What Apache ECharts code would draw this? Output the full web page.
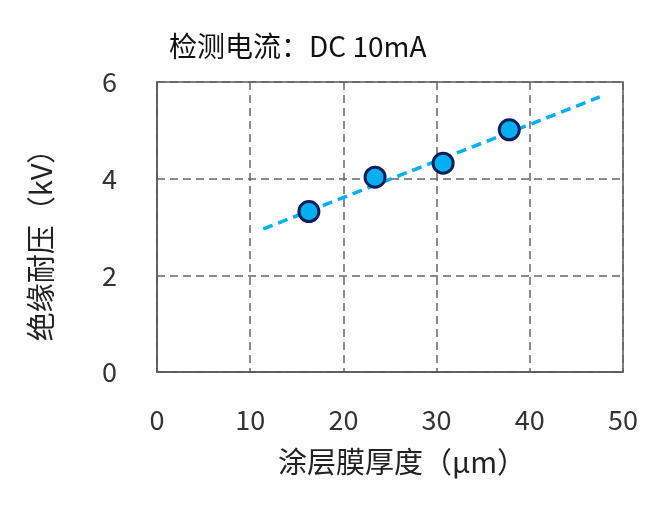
<!DOCTYPE html>
<html><head><meta charset="utf-8">
<script src="https://cdn.jsdelivr.net/npm/echarts@6/dist/echarts.min.js"></script>
<style>html,body{margin:0;padding:0;background:#fff}#c{width:666px;height:508px}</style>
</head><body><div id="c"></div>
<script>
const titleText = '检测电流：DC 10mA';
const xName = '涂层膜厚度（μm）';
const yName = '绝缘耐压（kV）';
const thickness = [16.3, 23.4, 30.7, 37.8];
const voltage = [3.32, 4.03, 4.32, 5.01];
const trendX = [11.4, 47.5];
const trendY = [2.96, 5.69];
const xTicks = [0, 10, 20, 30, 40, 50];
const yTicks = [0, 2, 4, 6];

const chart = echarts.init(document.getElementById('c'));
const font = '"Noto Sans CJK SC", "Noto Sans", sans-serif';
chart.setOption({
  animation: false,
  title: { text: titleText, left: 164, top: 27, textStyle: { fontFamily: font, fontSize: 28, fontWeight: 'normal', color: '#111' } },
  grid: { left: 157, top: 82, width: 466, height: 290, show: true, borderColor: '#595959', borderWidth: 1.5 },
  xAxis: {
    type: 'value', min: 0, max: 50, interval: 10,
    name: xName, nameLocation: 'middle', nameGap: 75,
    nameTextStyle: { fontFamily: font, fontSize: 29, color: '#222', padding: [0, 0, 0, 24] },
    axisLine: { show: true, lineStyle: { color: '#595959', width: 1.5 } },
    axisTick: { show: false },
    axisLabel: { fontFamily: font, fontSize: 27, color: '#333', margin: 34 },
    splitLine: { show: true, lineStyle: { type: [8, 5], color: '#666', width: 1.5 } }
  },
  yAxis: {
    type: 'value', min: 0, max: 6, interval: 2,
    name: yName, nameLocation: 'middle', nameGap: 102, nameRotate: 90,
    nameTextStyle: { fontFamily: font, fontSize: 29, color: '#222', padding: [0, 22, 0, 0] },
    axisLine: { show: true, lineStyle: { color: '#595959', width: 1.5 } },
    axisTick: { show: false },
    axisLabel: { fontFamily: font, fontSize: 27, color: '#333', margin: 40 },
    splitLine: { show: true, lineStyle: { type: [8, 5], color: '#666', width: 1.5 } }
  },
  series: [
    {
      type: 'line', data: trendX.map((x, i) => [x, trendY[i]]), symbol: 'none',
      lineStyle: { color: '#00B0F0', width: 3.5, type: [10, 6] }, z: 2
    },
    {
      type: 'scatter', data: thickness.map((x, i) => [x, voltage[i]]), symbolSize: 20,
      itemStyle: { color: '#00B0F0', borderColor: '#0A1F5C', borderWidth: 3, opacity: 1 }, z: 3
    }
  ]
});
</script></body></html>
